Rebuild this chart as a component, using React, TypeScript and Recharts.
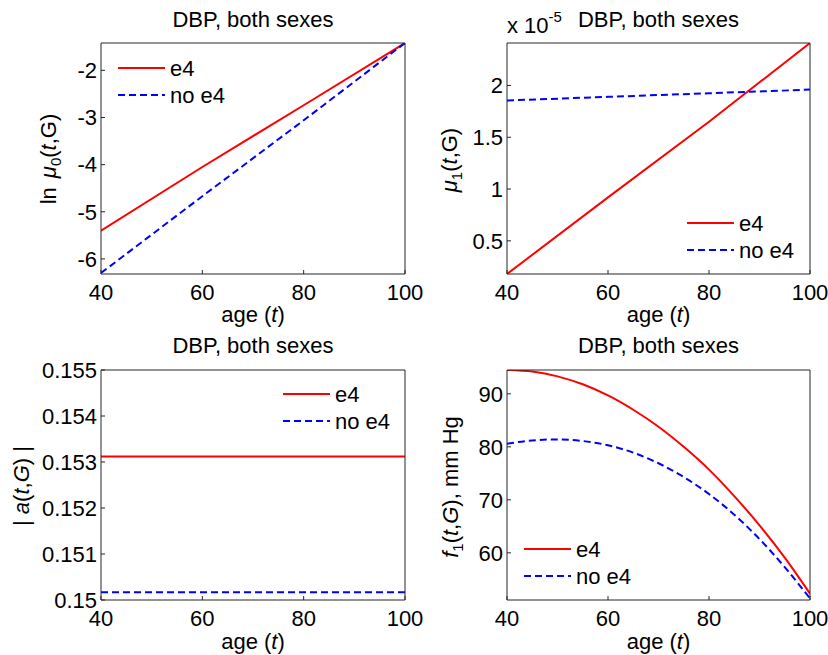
import React from 'react'
import { LineChart, Line, XAxis, YAxis, Legend } from 'recharts'

const FONT = '"Liberation Sans", Arial, Helvetica, sans-serif'
const RED = '#ff0000'
const BLUE = '#0000ff'
const AXIS = '#262626'
const DASH = '7 4'
const FS = 22

const AGE_TICKS = [40, 60, 80, 100]

// ln mu0(t,G)
const mu0Ages = [40, 60, 80, 100]
const lnMu0E4 = [-5.4, -4.05, -2.74, -1.42]
const lnMu0NoE4 = [-6.3, -4.67, -3.06, -1.42]
const lnMu0Ticks = [-6, -5, -4, -3, -2]

// mu1(t,G), units of 1e-5
const mu1Ages = [40, 60, 80, 100]
const mu1E4 = [0.18, 0.92, 1.65, 2.41]
const mu1NoE4 = [1.855, 1.89, 1.925, 1.96]
const mu1Ticks = [0.5, 1, 1.5, 2]

// |a(t,G)|
const aAges = [40, 100]
const aE4 = [0.15312, 0.15312]
const aNoE4 = [0.15017, 0.15017]
const aTicks = [0.15, 0.151, 0.152, 0.153, 0.154, 0.155]

// f1(t,G), mm Hg
const f1Ages = [40, 45, 50, 55, 60, 65, 70, 75, 80, 85, 90, 95, 100]
const f1E4 = [94.5, 94.2, 93.3, 91.8, 89.7, 87.0, 83.8, 80.0, 75.7, 70.7, 65.2, 59.1, 52.3]
const f1NoE4 = [80.6, 81.2, 81.4, 81.1, 80.3, 78.9, 76.9, 74.3, 71.1, 67.2, 62.6, 57.3, 51.4]
const f1Ticks = [60, 70, 80, 90]

const SERIES = [
  { key: 'e4', name: 'e4', color: RED, dash: undefined as string | undefined },
  { key: 'no', name: 'no e4', color: BLUE, dash: DASH },
]

const rows = (ages: number[], e4: number[], no: number[]) =>
  ages.map((age, i) => ({ age, e4: e4[i], no: no[i] }))

function LegendBox() {
  return (
    <svg width={130} height={56} style={{ display: 'block', overflow: 'visible' }}>
      {SERIES.map((s, i) => (
        <g key={s.key}>
          <line x1={0} x2={47} y1={13 + i * 27} y2={13 + i * 27} stroke={s.color} strokeWidth={2} strokeDasharray={s.dash} />
          <text x={52} y={21 + i * 27} fontSize={FS} fontFamily={FONT} fill="#000">{s.name}</text>
        </g>
      ))}
    </svg>
  )
}

function Panel({ x, y, h, plot, data, domain, ticks, curve, legend, yLabel, extra }: any) {
  const W = 414
  const yW = 60
  const xH = 40
  const margin = {
    top: plot.top - 1,
    right: W - plot.right - 1,
    bottom: h - plot.bottom - xH,
    left: plot.left - yW,
  }
  const cx = (plot.left + plot.right) / 2
  return (
    <div style={{ position: 'absolute', left: x, top: y, width: W, height: h }}>
      <LineChart width={W} height={h} data={data} margin={margin} style={{ fontFamily: FONT }}>
        <XAxis xAxisId="b" dataKey="age" type="number" domain={[40, 100]} ticks={AGE_TICKS} interval={0}
          allowDataOverflow tickSize={-4} tickMargin={14} height={xH} stroke={AXIS}
          tick={{ fill: '#000', fontSize: FS }} />
        <XAxis xAxisId="t" orientation="top" dataKey="age" type="number" domain={[40, 100]} ticks={AGE_TICKS}
          interval={0} allowDataOverflow tickSize={-4} tick={false} height={1} stroke={AXIS} />
        <YAxis yAxisId="l" type="number" domain={domain} ticks={ticks} interval={0} allowDataOverflow
          tickSize={-4} tickMargin={8} width={yW} stroke={AXIS} tick={{ fill: '#000', fontSize: FS }} />
        <YAxis yAxisId="r" orientation="right" type="number" domain={domain} ticks={ticks} interval={0}
          allowDataOverflow tickSize={-4} tick={false} width={1} stroke={AXIS} />
        {SERIES.map((s) => (
          <Line key={s.key} xAxisId="b" yAxisId="l" type={curve} dataKey={s.key} name={s.name}
            stroke={s.color} strokeWidth={2} strokeDasharray={s.dash} dot={false}
            activeDot={false} isAnimationActive={false} />
        ))}
        <Legend layout="vertical" align="center" verticalAlign="middle"
          wrapperStyle={{ left: legend[0], top: legend[1], width: 130, height: 56 }}
          content={() => <LegendBox />} />
      </LineChart>
      <svg width={W} height={h} style={{ position: 'absolute', left: 0, top: 0, overflow: 'visible', pointerEvents: 'none' }}
        fontFamily={FONT} fontSize={FS} fill="#000">
        <text x={cx} y={h === 327 ? 27 : 26} textAnchor="middle">DBP, both sexes</text>
        <text x={cx} y={322} textAnchor="middle">age (<tspan fontStyle="italic">t</tspan>)</text>
        {yLabel}
        {extra}
      </svg>
    </div>
  )
}

export default function App() {
  return (
    <div style={{ position: 'absolute', left: 0, top: 0, width: 828, height: 655, background: '#fff' }}>
      <style>{'body{margin:0}.recharts-surface{overflow:visible}'}</style>
      <Panel x={0} y={0} h={327} plot={{ left: 101, right: 405, top: 43, bottom: 274 }}
        data={rows(mu0Ages, lnMu0E4, lnMu0NoE4)} domain={[-6.32, -1.42]} ticks={lnMu0Ticks} curve="linear"
        legend={[118, 55]}
        yLabel={
          <text transform="translate(56,159) rotate(-90)" textAnchor="middle">
            ln<tspan dx={9} fontStyle="italic">μ</tspan><tspan fontSize={15} dy={5}>0</tspan>
            <tspan dy={-5}>(</tspan><tspan fontStyle="italic">t</tspan>,G)
          </text>
        } />
      <Panel x={414} y={0} h={327} plot={{ left: 93, right: 396, top: 43, bottom: 274 }}
        data={rows(mu1Ages, mu1E4, mu1NoE4)} domain={[0.18, 2.41]} ticks={mu1Ticks} curve="linear"
        legend={[273, 210]}
        yLabel={
          <text transform="translate(43,160) rotate(-90)" textAnchor="middle">
            <tspan fontStyle="italic">μ</tspan><tspan fontSize={15} dy={5}>1</tspan>
            <tspan dy={-5}>(</tspan><tspan fontStyle="italic">t</tspan>,G)
          </text>
        }
        extra={
          <text x={93} y={33}>x 10<tspan fontSize={15} dy={-11}>-5</tspan></text>
        } />
      <Panel x={0} y={327} h={328} plot={{ left: 101, right: 405, top: 43, bottom: 273 }}
        data={rows(aAges, aE4, aNoE4)} domain={[0.15, 0.155]} ticks={aTicks} curve="linear"
        legend={[283, 54]}
        yLabel={
          <text transform="translate(29,159) rotate(-90)" textAnchor="middle">
            | <tspan fontStyle="italic">a</tspan>(<tspan fontStyle="italic">t</tspan>,<tspan fontStyle="italic">G</tspan>) |
          </text>
        } />
      <Panel x={414} y={327} h={328} plot={{ left: 93, right: 396, top: 43, bottom: 273 }}
        data={rows(f1Ages, f1E4, f1NoE4)} domain={[51.1, 94.5]} ticks={f1Ticks} curve="monotone"
        legend={[110, 209]}
        yLabel={
          <text transform="translate(44,160) rotate(-90)" textAnchor="middle">
            <tspan fontStyle="italic">f</tspan><tspan fontSize={15} dy={5}>1</tspan>
            <tspan dy={-5}>(</tspan><tspan fontStyle="italic">t</tspan>,<tspan fontStyle="italic">G</tspan>), mm Hg
          </text>
        } />
    </div>
  )
}
